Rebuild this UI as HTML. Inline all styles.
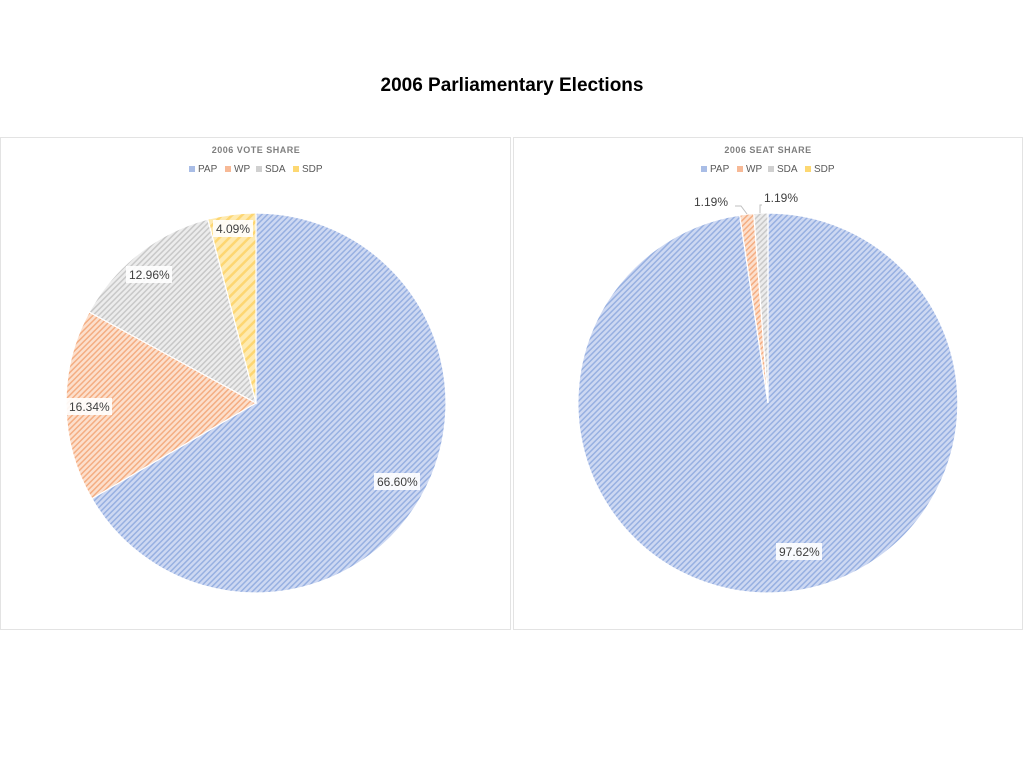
<!DOCTYPE html>
<html><head><meta charset="utf-8"><style>
body{margin:0;background:#fff;}
svg{display:block;}
</style></head><body>
<svg width="1024" height="768" xmlns="http://www.w3.org/2000/svg" font-family="Liberation Sans, sans-serif">
<defs>
<pattern id="pb" width="4" height="4" patternUnits="userSpaceOnUse" patternTransform="rotate(45)"><rect width="4" height="4" fill="#cdd8f2"/><rect width="1.5" height="4" fill="#97b0e1"/></pattern>
<pattern id="po" width="4" height="4" patternUnits="userSpaceOnUse" patternTransform="rotate(45)"><rect width="4" height="4" fill="#fcdfcc"/><rect width="1.5" height="4" fill="#f4ad82"/></pattern>
<pattern id="pg" width="4" height="4" patternUnits="userSpaceOnUse" patternTransform="rotate(45)"><rect width="4" height="4" fill="#ececec"/><rect width="1.5" height="4" fill="#c8c8c8"/></pattern>
<pattern id="py" width="7" height="7" patternUnits="userSpaceOnUse" patternTransform="rotate(45)"><rect width="7" height="7" fill="#feeab0"/><rect width="2.5" height="7" fill="#fdd672"/></pattern>
</defs>
<text x="512" y="91" text-anchor="middle" font-size="19" font-weight="bold">2006 Parliamentary Elections</text>
<rect x="0.5" y="137.5" width="510" height="492" fill="#fff" stroke="#e3e3e3"/>
<rect x="513.5" y="137.5" width="509" height="492" fill="#fff" stroke="#e3e3e3"/>
<g font-size="9" font-weight="bold" fill="#7f7f7f" text-anchor="middle" letter-spacing="0.5">
<text x="256" y="153">2006 VOTE SHARE</text><text x="768" y="153">2006 SEAT SHARE</text></g>
<g font-size="10" fill="#595959">
<rect x="189" y="166" width="6" height="6" fill="#a9bde6"/><text x="198" y="172">PAP</text>
<rect x="225" y="166" width="6" height="6" fill="#f7b996"/><text x="234" y="172">WP</text>
<rect x="256" y="166" width="6" height="6" fill="#d0d0d0"/><text x="265" y="172">SDA</text>
<rect x="293" y="166" width="6" height="6" fill="#fdd872"/><text x="302" y="172">SDP</text>
<rect x="701" y="166" width="6" height="6" fill="#a9bde6"/><text x="710" y="172">PAP</text>
<rect x="737" y="166" width="6" height="6" fill="#f7b996"/><text x="746" y="172">WP</text>
<rect x="768" y="166" width="6" height="6" fill="#d0d0d0"/><text x="777" y="172">SDA</text>
<rect x="805" y="166" width="6" height="6" fill="#fdd872"/><text x="814" y="172">SDP</text>
</g>
<g stroke="#fff" stroke-width="1.2">
<path d="M256,403 L256,213 A190,190 0 1 1 91.8,498.6 Z" fill="url(#pb)"/>
<path d="M256,403 L91.8,498.6 A190,190 0 0 1 89.2,312 Z" fill="url(#po)"/>
<path d="M256,403 L89.2,312 A190,190 0 0 1 207.8,219.2 Z" fill="url(#pg)"/>
<path d="M256,403 L207.8,219.2 A190,190 0 0 1 256,213 Z" fill="url(#py)"/>
<path d="M768,403 L768,213 A190,190 0 1 1 739.7,215.1 Z" fill="url(#pb)"/>
<path d="M768,403 L739.7,215.1 A190,190 0 0 1 753.8,213.5 Z" fill="url(#po)"/>
<path d="M768,403 L753.8,213.5 A190,190 0 0 1 768,213 Z" fill="url(#pg)"/>
</g>
<g stroke="#bfbfbf" fill="none" stroke-width="1"><path d="M735,206 L741,206 L747,214"/><path d="M762,205 L760,205 L760,213"/></g>
<g font-size="12" fill="#404040">
<rect x="213" y="220" width="40" height="17" fill="#fff" opacity="0.9"/><text x="216" y="233">4.09%</text>
<rect x="126" y="266" width="46" height="17" fill="#fff" opacity="0.9"/><text x="129" y="279">12.96%</text>
<rect x="66" y="398" width="46" height="17" fill="#fff" opacity="0.9"/><text x="69" y="411">16.34%</text>
<rect x="374" y="473" width="46" height="17" fill="#fff" opacity="0.9"/><text x="377" y="486">66.60%</text>
<text x="694" y="206">1.19%</text>
<text x="764" y="202">1.19%</text>
<rect x="776" y="543" width="46" height="17" fill="#fff" opacity="0.9"/><text x="779" y="556">97.62%</text>
</g>
</svg>
</body></html>
